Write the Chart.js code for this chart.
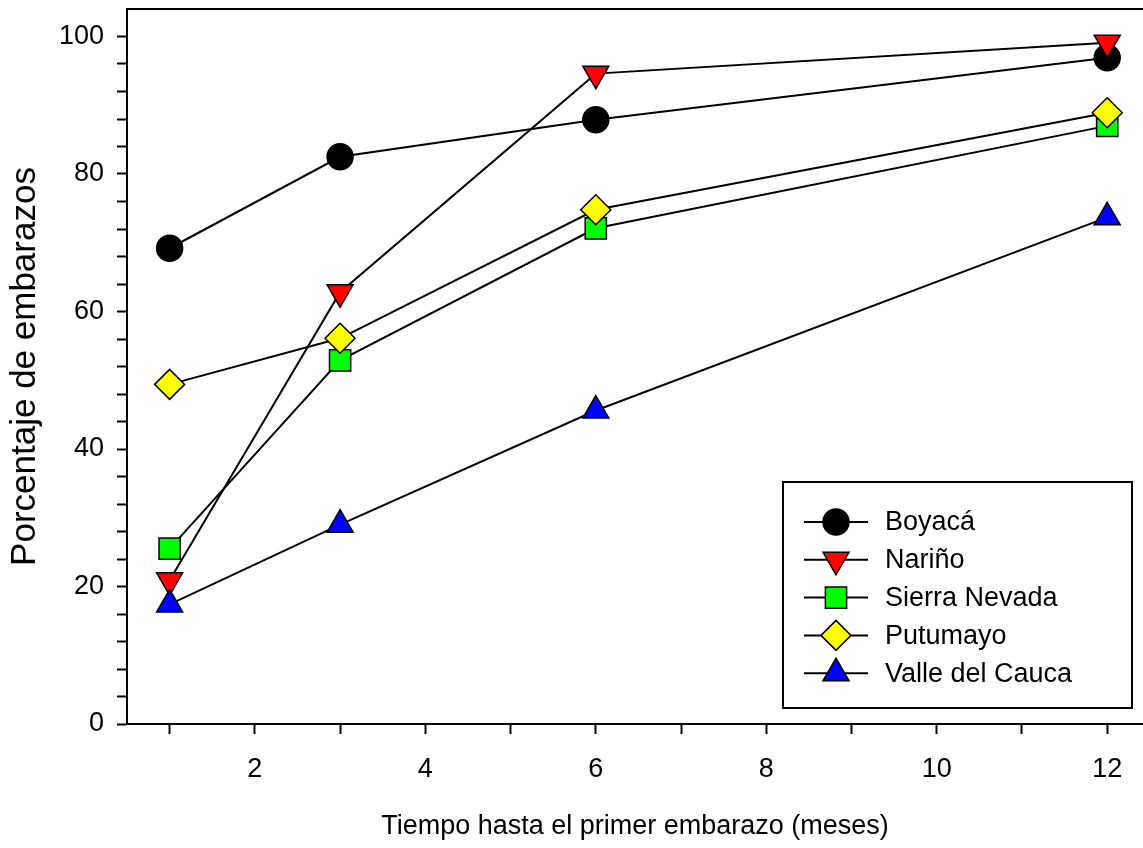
<!DOCTYPE html>
<html lang="es">
<head>
    <meta charset="UTF-8">
    <title>Tiempo hasta el primer embarazo</title>
    <style>
        body {
            margin: 0;
            background: white;
        }
        #chart {
            display: block;
        }
    </style>
</head>
<body>
    <canvas id="chart" width="1143" height="848"></canvas>

    <script src="https://cdn.jsdelivr.net/npm/chart.js"></script>
    <script>
        // datos
        const meses = [1, 3, 6, 12];
        const regiones = ["Boyacá", "Nariño", "Sierra Nevada", "Putumayo", "Valle del Cauca"];
        const boyaca = [69.2, 82.5, 87.9, 96.9];
        const narino = [20.9, 62.8, 94.6, 99.1];
        const sierraNevada = [25.5, 52.9, 72.1, 87.0];
        const putumayo = [49.4, 56.1, 74.8, 88.9];
        const valleCauca = [17.4, 29.0, 45.6, 73.7];
        const xTicksLabels = [2, 4, 6, 8, 10, 12];
        const yTicksLabels = [0, 20, 40, 60, 80, 100];

        const series = [boyaca, narino, sierraNevada, putumayo, valleCauca];
        const colores = ["#000000", "#ff0000", "#00ff00", "#ffff00", "#0000ff"];
        const marcadores = [
            { style: "circle", rot: 0, r: 13 },
            { style: "triangle", rot: 180, r: 15 },
            { style: "rect", rot: 0, r: 15 },
            { style: "rectRot", rot: 0, r: 15 },
            { style: "triangle", rot: 0, r: 15 }
        ];

        const fuente = "'Liberation Sans', Arial, sans-serif";

        const datasets = series.map((vals, i) => ({
            label: regiones[i],
            data: vals.map((v, j) => ({ x: meses[j], y: v })),
            borderColor: "#000",
            borderWidth: 2,
            pointStyle: marcadores[i].style,
            pointRotation: marcadores[i].rot,
            pointRadius: marcadores[i].r,
            pointHoverRadius: marcadores[i].r,
            pointBackgroundColor: colores[i],
            pointBorderColor: "#000",
            pointBorderWidth: 1.5,
            tension: 0,
            fill: false,
            clip: false,
            order: series.length - i
        }));

        // linea superior del marco
        const marcoSuperior = {
            id: "marcoSuperior",
            afterDraw(chart) {
                const ctx = chart.ctx;
                const a = chart.chartArea;
                ctx.save();
                ctx.strokeStyle = "#000";
                ctx.lineWidth = 2;
                ctx.beginPath();
                ctx.moveTo(a.left - 1, a.top);
                ctx.lineTo(a.right, a.top);
                ctx.stroke();
                ctx.restore();
            }
        };

        // leyenda con linea y marcador
        const leyenda = {
            id: "leyenda",
            afterDraw(chart) {
                const ctx = chart.ctx;
                ctx.save();
                ctx.fillStyle = "#fff";
                ctx.fillRect(783, 482, 349, 226);
                ctx.strokeStyle = "#000";
                ctx.lineWidth = 2;
                ctx.strokeRect(783, 482, 349, 226);
                regiones.forEach((nombre, i) => {
                    const y = 522 + i * 37.8;
                    ctx.strokeStyle = "#000";
                    ctx.lineWidth = 2;
                    ctx.beginPath();
                    ctx.moveTo(804, y);
                    ctx.lineTo(868, y);
                    ctx.stroke();
                    ctx.fillStyle = colores[i];
                    ctx.strokeStyle = "#000";
                    ctx.lineWidth = 1.5;
                    Chart.helpers.drawPoint(ctx, {
                        pointStyle: marcadores[i].style,
                        rotation: marcadores[i].rot,
                        radius: marcadores[i].r,
                        borderWidth: 1.5
                    }, 836, y);
                    ctx.fillStyle = "#000";
                    ctx.font = "27px " + fuente;
                    ctx.textBaseline = "middle";
                    ctx.textAlign = "left";
                    ctx.fillText(nombre, 885, y + 1);
                });
                ctx.restore();
            }
        };

        new Chart(document.getElementById("chart"), {
            type: "line",
            data: { datasets: datasets },
            options: {
                responsive: false,
                devicePixelRatio: 1,
                animation: false,
                layout: { autoPadding: false, padding: { top: 9, right: 0, bottom: 0, left: 0 } },
                plugins: {
                    legend: { display: false },
                    tooltip: { enabled: false }
                },
                scales: {
                    x: {
                        type: "linear",
                        min: 0.5,
                        max: 12.42,
                        afterFit: (s) => {
                            s.height = 124;
                            s.paddingLeft = 0;
                            s.paddingRight = 0;
                        },
                        grid: {
                            drawOnChartArea: false,
                            drawTicks: true,
                            tickLength: 10,
                            tickColor: "#000",
                            tickWidth: 2
                        },
                        border: { display: true, color: "#000", width: 2 },
                        ticks: {
                            stepSize: 1,
                            includeBounds: false,
                            autoSkip: false,
                            maxRotation: 0,
                            color: "#000",
                            padding: 19,
                            font: { family: fuente, size: 27 },
                            callback: (v) => xTicksLabels.includes(v) ? String(v) : ""
                        },
                        title: {
                            display: true,
                            text: "Tiempo hasta el primer embarazo (meses)",
                            color: "#000",
                            font: { family: fuente, size: 27 },
                            padding: { top: 0, bottom: 5 }
                        }
                    },
                    y: {
                        min: 0,
                        max: 104,
                        afterFit: (s) => {
                            s.width = 127;
                            s.paddingTop = 0;
                            s.paddingBottom = 0;
                        },
                        grid: {
                            drawOnChartArea: false,
                            drawTicks: true,
                            tickLength: 10,
                            tickWidth: 2,
                            tickColor: (c) => (c.tick && c.tick.value > 100) ? "rgba(0,0,0,0)" : "#000"
                        },
                        border: { display: true, color: "#000", width: 2 },
                        ticks: {
                            stepSize: 4,
                            includeBounds: false,
                            autoSkip: false,
                            color: "#000",
                            padding: 13,
                            font: { family: fuente, size: 27 },
                            callback: (v) => yTicksLabels.includes(v) ? String(v) : ""
                        },
                        title: {
                            display: true,
                            text: "Porcentaje de embarazos",
                            color: "#000",
                            font: { family: fuente, size: 35 },
                            padding: { top: 4, bottom: 0 }
                        }
                    }
                }
            },
            plugins: [marcoSuperior, leyenda]
        });
    </script>
</body>
</html>
